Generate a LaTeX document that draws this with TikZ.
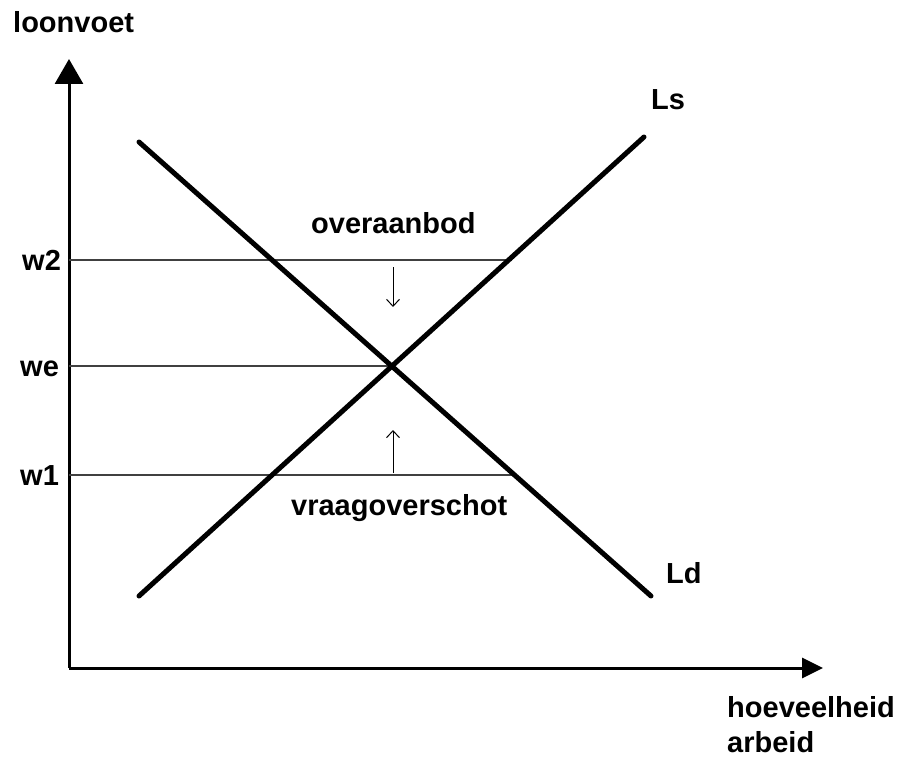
\documentclass[tikz,border=0pt]{standalone}
\usepackage{fontspec}
\setmainfont{Liberation Sans}
\usetikzlibrary{arrows.meta}
\tikzset{
  lbl/.style={inner sep=0pt, anchor=base west, font=\fontsize{29}{34}\selectfont\bfseries},
  axis/.style={line width=3pt},
  curve/.style={line width=5pt, line cap=round},
  level/.style={line width=1.3pt, black!75},
  small/.style={line width=1pt, -{Straight Barb[length=7pt,width=13pt,line width=1pt]}}
}
\begin{document}
\begin{tikzpicture}[x=1pt,y=-1pt]
\useasboundingbox (0,0) rectangle (906,760);
% axes
\coordinate (O) at (69,668);
\coordinate (ytip) at (69,59);
\coordinate (xtip) at (823,668);
\draw[axis, -{Triangle[length=25pt,width=28pt]}] (O) -- (ytip);
\draw[axis, -{Triangle[length=21pt,width=20pt]}] (O) -- (xtip);
% level lines
\coordinate (w2a) at (69,260);
\coordinate (w2b) at (512,260);
\coordinate (wea) at (69,366);
\coordinate (E) at (395,366);
\coordinate (w1a) at (69,475);
\coordinate (w1b) at (514,475);
\draw[level] (w2a) -- (w2b);
\draw[level] (wea) -- (E);
\draw[level] (w1a) -- (w1b);
% curves
\coordinate (Ld1) at (139,142);
\coordinate (Ld2) at (651,596);
\coordinate (Ls1) at (139,596);
\coordinate (Ls2) at (644,137);
\draw[curve] (Ld1) -- (Ld2);
\draw[curve] (Ls1) -- (Ls2);
% small arrows
\coordinate (d1) at (393,267);
\coordinate (d2) at (393,307);
\coordinate (u1) at (393,473);
\coordinate (u2) at (393,430);
\draw[small] (d1) -- (d2);
\draw[small] (u1) -- (u2);
% labels
\node[lbl] (loonvoet) at (13,33) {loonvoet};
\node[lbl] (Ls) at (651,110) {Ls};
\node[lbl] (Ld) at (666,583) {Ld};
\node[lbl] (over) at (311,233) {overaanbod};
\node[lbl] (vraag) at (291,515) {vraagoverschot};
\node[lbl] (w2) at (22,270) {w2};
\node[lbl] (we) at (20,376) {we};
\node[lbl] (w1) at (20,485) {w1};
\node[lbl] (hoev) at (727,717) {hoeveelheid};
\node[lbl] (arb) at (727,752) {arbeid};
\end{tikzpicture}
\end{document}
